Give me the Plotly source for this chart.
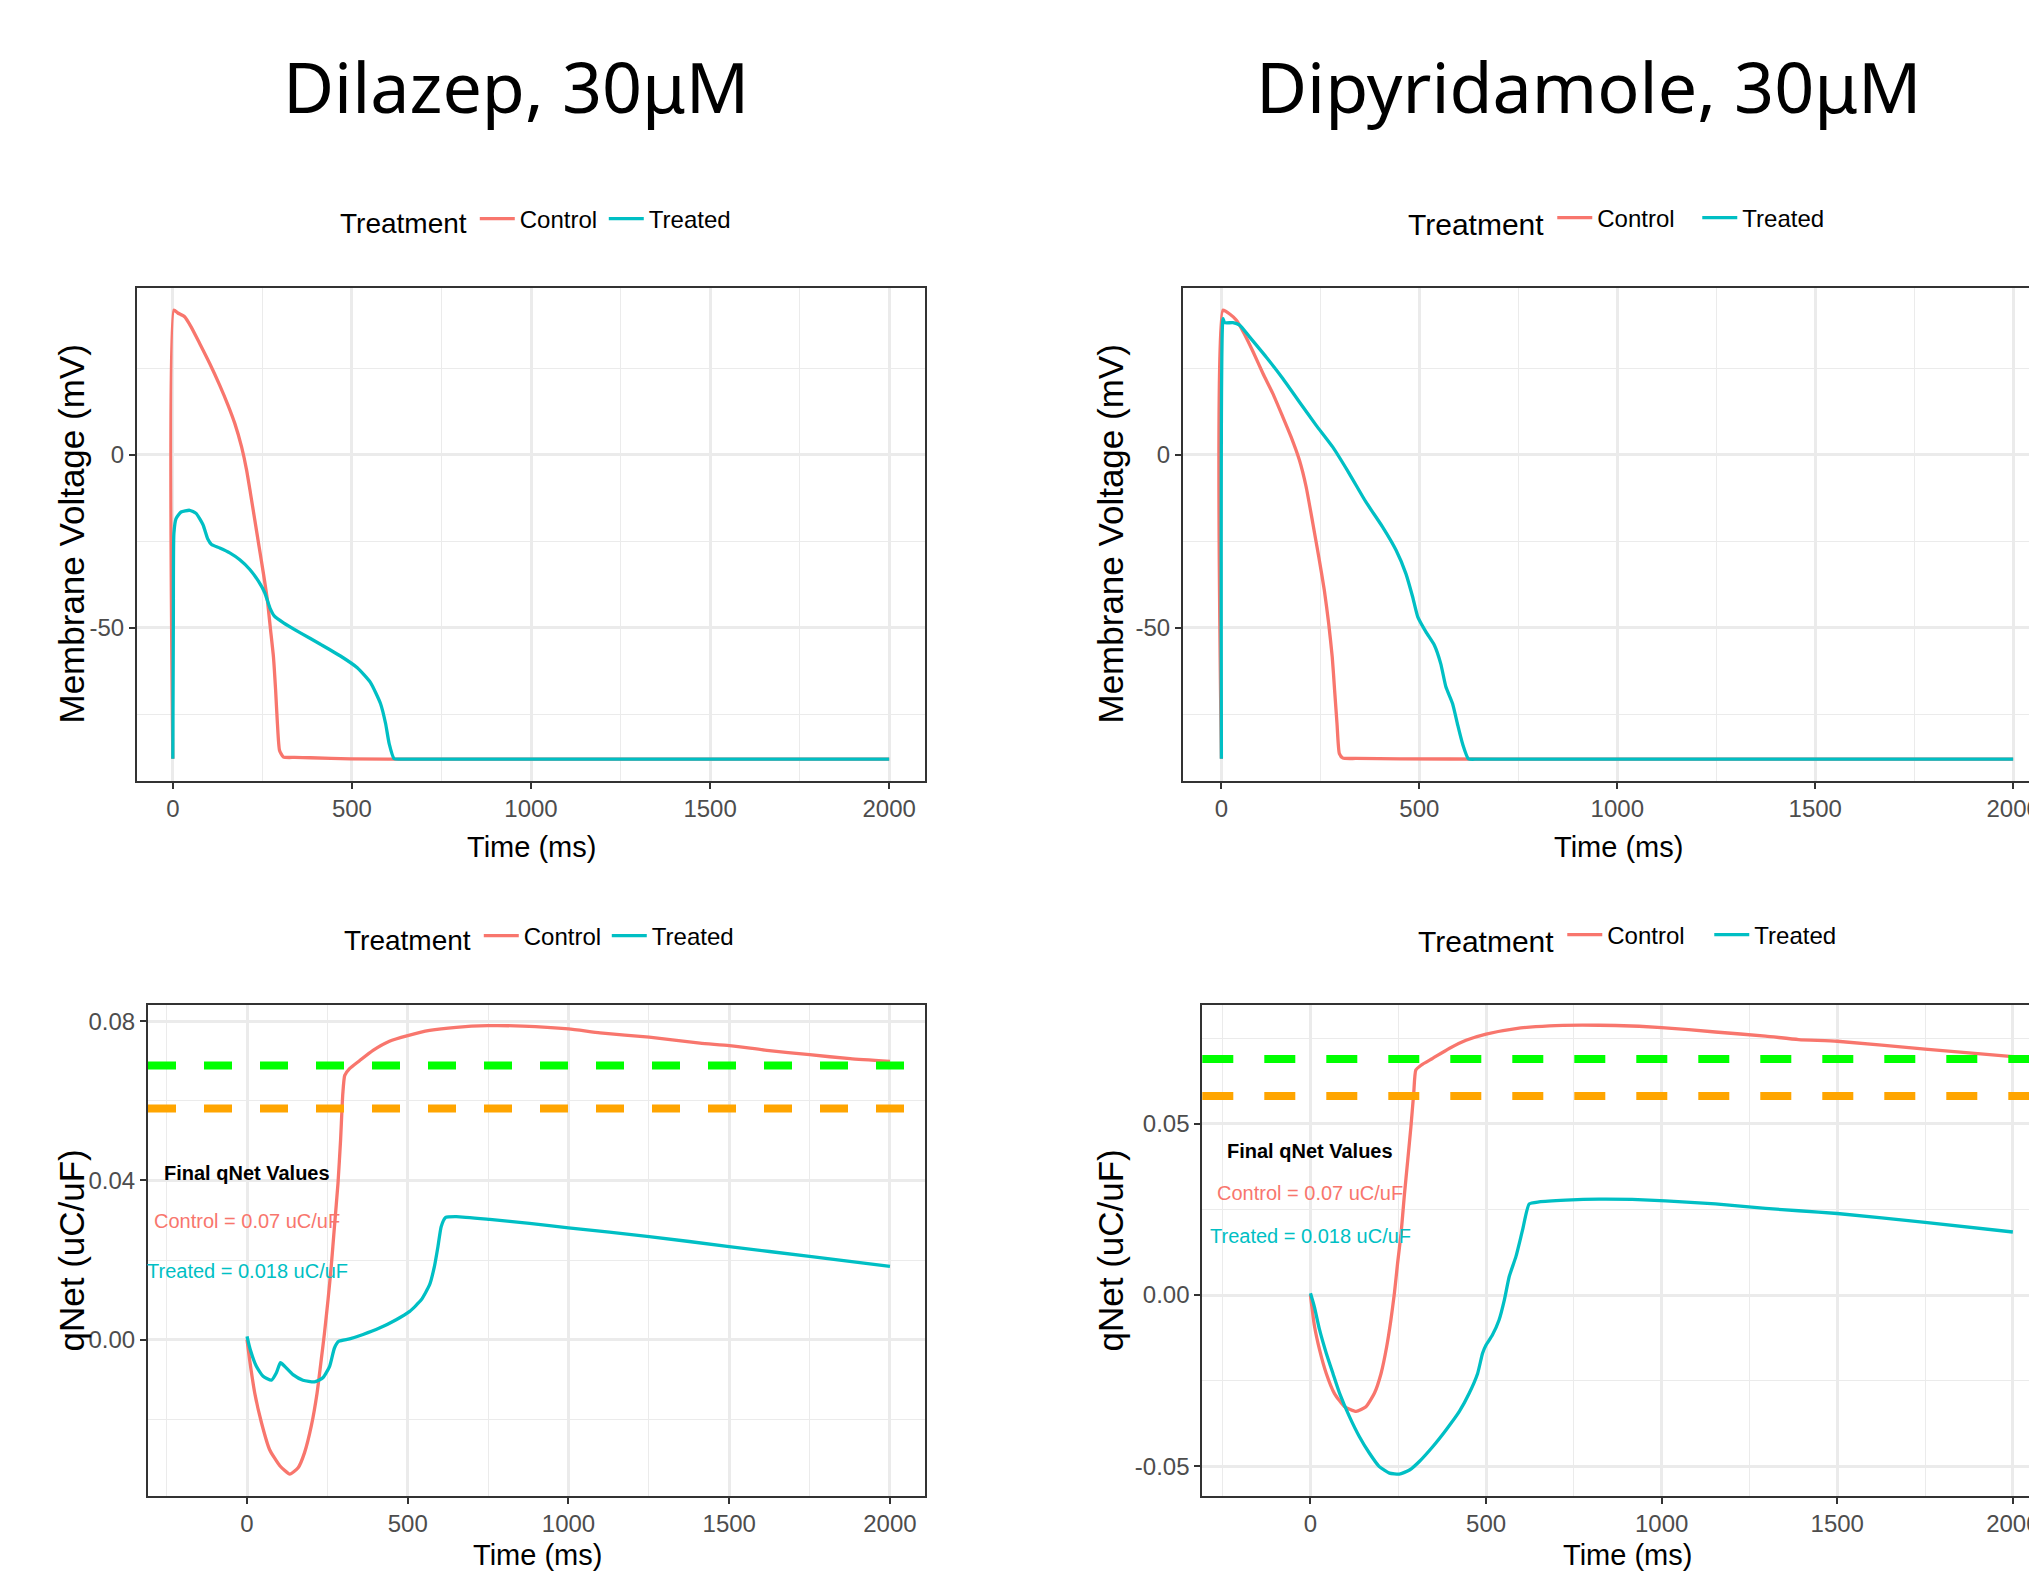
import plotly.graph_objects as go

W, H = 2029, 1573

# ---------------- data ----------------
# Dilazep, membrane voltage
t_dil_ctrl = [0, 3, 14, 33, 51, 75, 103, 131, 154, 173, 192, 206, 217, 229, 241, 253, 264, 273,
              281, 287, 292, 298, 309, 340, 384, 496, 700, 1000, 1500, 2000]
v_dil_ctrl = [-87.9, 41.7, 40.9, 39.8, 36.9, 32.1, 26.3, 20.0, 14.3, 9.0, 2.2, -4.5, -11.3, -19.0,
              -26.7, -34.4, -42.1, -50.8, -58.5, -68.1, -77.7, -85.5, -87.4, -87.5, -87.6, -87.9,
              -88.0, -88.0, -88.0, -88.0]
t_dil_trt = [0, 1.5, 3, 9, 23, 47, 65, 84, 98, 108, 131, 159, 187, 215, 239, 257, 271, 283, 309,
             356, 412, 468, 515, 552, 580, 594, 604, 618, 640, 700, 1000, 1500, 2000]
v_dil_trt = [-87.9, -47.0, -22.8, -18.5, -16.6, -16.1, -17.0, -20.2, -24.5, -26.0, -27.0, -28.4,
             -30.4, -33.2, -36.6, -40.0, -44.3, -46.6, -48.6, -51.5, -54.8, -58.2, -61.6, -65.9,
             -72.0, -77.7, -83.5, -87.9, -88.0, -88.0, -88.0, -88.0, -88.0]

# Dipyridamole, membrane voltage
t_dip_ctrl = [0, 4, 21, 38, 55, 80, 105, 130, 155, 176, 197, 214, 231, 246, 260, 271, 280, 286,
              292, 298, 307, 340, 450, 700, 1000, 1500, 2000]
v_dip_ctrl = [-87.9, 41.7, 40.6, 38.8, 35.5, 29.7, 23.4, 17.6, 10.9, 5.1, -1.6, -9.3, -19.9,
              -29.6, -39.2, -48.8, -58.5, -68.1, -77.7, -86.4, -87.7, -87.8, -87.9, -88.0, -88.0,
              -88.0, -88.0]
t_dip_trt = [0, 4, 8, 29, 46, 71, 113, 155, 197, 239, 281, 323, 365, 407, 441, 466, 483, 496,
             517, 538, 554, 567, 584, 596, 609, 624, 645, 700, 1000, 1500, 2000]
v_dip_trt = [-87.9, 39.3, 38.1, 38.1, 37.4, 34.0, 28.2, 22.0, 15.2, 8.5, 2.2, -5.5, -13.7, -20.9,
             -27.6, -34.4, -41.1, -46.9, -51.3, -55.1, -60.4, -67.1, -72.0, -77.7, -83.5, -87.9,
             -88.0, -88.0, -88.0, -88.0, -88.0]

# Dilazep, qNet
t_qd_ctrl = [0, 8, 24, 45, 70, 102, 133, 159, 179, 200, 218, 231, 241, 252, 262, 272, 283, 291,
             298, 304, 319, 350, 392, 443, 500, 568, 651, 749, 858, 1000, 1098, 1251, 1409, 1500,
             1617, 1750, 1876, 2000]
q_qd_ctrl = [0.0, -0.0050, -0.0134, -0.0209, -0.0276, -0.0317, -0.0338, -0.0322, -0.0284,
             -0.0217, -0.0134, -0.0050, 0.0017, 0.0100, 0.0184, 0.0284, 0.0393, 0.0501, 0.0618,
             0.0664, 0.0681, 0.0701, 0.0727, 0.0750, 0.0764, 0.0777, 0.0785, 0.0789, 0.0788,
             0.0781, 0.0771, 0.0760, 0.0745, 0.0739, 0.0727, 0.0716, 0.0706, 0.0699]
t_qd_trt = [0, 10, 29, 50, 76, 91, 104, 117, 143, 174, 210, 236, 257, 272, 286, 319, 361, 412,
            464, 506, 542, 568, 583, 594, 604, 618, 651, 755, 879, 1000, 1251, 1500, 1750, 2000]
q_qd_trt = [0.0008, -0.0025, -0.0067, -0.0092, -0.0102, -0.0084, -0.0058, -0.0067, -0.0088,
            -0.0102, -0.0106, -0.0096, -0.0067, -0.0021, -0.0004, 0.0002, 0.0013, 0.0029, 0.0050,
            0.0071, 0.0100, 0.0138, 0.0184, 0.0234, 0.0284, 0.0307, 0.0309, 0.0302, 0.0292,
            0.0281, 0.0259, 0.0234, 0.0209, 0.0184]

# Dipyridamole, qNet
t_qp_ctrl = [0, 11, 26, 45, 68, 97, 130, 158, 182, 201, 217, 229, 239, 248, 258, 267, 277, 286,
             294, 300, 315, 348, 395, 443, 500, 585, 680, 774, 869, 1000, 1153, 1296, 1390, 1500,
             1750, 2000]
q_qp_ctrl = [0.0, -0.0088, -0.0160, -0.0229, -0.0287, -0.0326, -0.0340, -0.0326, -0.0287,
             -0.0229, -0.0151, -0.0073, 0.0005, 0.0092, 0.0180, 0.0287, 0.0394, 0.0491, 0.0589,
             0.0657, 0.0671, 0.0691, 0.0720, 0.0744, 0.0762, 0.0778, 0.0786, 0.0788, 0.0787,
             0.0781, 0.0768, 0.0756, 0.0746, 0.0741, 0.0718, 0.0696]
t_qp_trt = [0, 11, 26, 45, 64, 83, 111, 139, 168, 196, 225, 253, 282, 310, 348, 386, 424, 452,
            476, 490, 500, 518, 537, 552, 566, 585, 604, 623, 651, 727, 822, 916, 1011, 1153,
            1296, 1390, 1500, 1750, 2000]
q_qp_trt = [0.0005, -0.0034, -0.0102, -0.0170, -0.0229, -0.0287, -0.0355, -0.0413, -0.0462,
            -0.0501, -0.0520, -0.0523, -0.0511, -0.0486, -0.0443, -0.0394, -0.0340, -0.0287,
            -0.0229, -0.0170, -0.0146, -0.0117, -0.0073, -0.0015, 0.0054, 0.0112, 0.0190,
            0.0266, 0.0272, 0.0277, 0.0280, 0.0279, 0.0275, 0.0266, 0.0253, 0.0246, 0.0238,
            0.0212, 0.0184]

qnet_thresholds = [0.0689, 0.0581]
threshold_colors = ["#00FF00", "#FFA500"]

drug_titles = ["Dilazep, 30\u03bcM", "Dipyridamole, 30\u03bcM"]
series_names = ["Control", "Treated"]
final_labels = ["Control = 0.07 uC/uF", "Treated = 0.018 uC/uF"]
final_label_y = [0.0297, 0.0172]

x_major = [0, 500, 1000, 1500, 2000]
x_minor = [-250, 250, 750, 1250, 1750]
v_major = [-50, 0]
v_major_text = ["-50", "0"]
v_minor = [-75, -25, 25]
qd_major = [0.0, 0.04, 0.08]
qd_major_text = ["0.00", "0.04", "0.08"]
qd_minor = [-0.02, 0.02, 0.06]
qp_major = [-0.05, 0.0, 0.05]
qp_major_text = ["-0.05", "0.00", "0.05"]
qp_minor = [-0.025, 0.025, 0.075]

# ---------------- styling ----------------
RED = "#F8766D"
TEAL = "#00BFC4"
SANS = "Liberation Sans, Arial, sans-serif"
TITLEF = "Noto Sans, Open Sans, sans-serif"
GRID = "#EBEBEB"
BORDER = "#333333"


def px_x(p):
    return p / W


def px_y(p):
    return 1 - p / H


def xaxis(domain, rng, anchor):
    return dict(domain=domain, range=rng, anchor=anchor, showline=True, linecolor=BORDER,
                linewidth=2, mirror=True, ticks="outside", ticklen=6, tickwidth=2,
                tickcolor=BORDER, tickvals=x_major, ticktext=[str(v) for v in x_major],
                showgrid=True, gridcolor=GRID, gridwidth=2.5, zeroline=False,
                automargin=False, ticklabelstandoff=-1, ticklabeloverflow="allow",
                tickfont=dict(family=SANS, size=24, color="#4D4D4D"),
                minor=dict(tickvals=x_minor, showgrid=True, gridcolor=GRID, gridwidth=1.3,
                           ticks=""),
                fixedrange=True)


def yaxis(domain, rng, anchor, vals, text, minor, mirror=True):
    return dict(domain=domain, range=rng, anchor=anchor, showline=True, linecolor=BORDER,
                linewidth=2, mirror=mirror, ticks="outside", ticklen=6, tickwidth=2,
                tickcolor=BORDER, tickvals=vals, ticktext=text, showgrid=True,
                gridcolor=GRID, gridwidth=2.5, zeroline=False, automargin=False,
                ticklabelstandoff=0, ticklabeloverflow="allow",
                tickfont=dict(family=SANS, size=24, color="#4D4D4D"),
                minor=dict(tickvals=minor, showgrid=True, gridcolor=GRID, gridwidth=1.3,
                           ticks=""),
                fixedrange=True)


fig = go.Figure()

panels = [
    ("x", "y", "legend", [(t_dil_ctrl, v_dil_ctrl), (t_dil_trt, v_dil_trt)]),
    ("x2", "y2", "legend2", [(t_dip_ctrl, v_dip_ctrl), (t_dip_trt, v_dip_trt)]),
    ("x3", "y3", "legend3", [(t_qd_ctrl, q_qd_ctrl), (t_qd_trt, q_qd_trt)]),
    ("x4", "y4", "legend4", [(t_qp_ctrl, q_qp_ctrl), (t_qp_trt, q_qp_trt)]),
]
for xr, yr, lg, series in panels:
    for (tt, yy), name, col in zip(series, series_names, [RED, TEAL]):
        fig.add_trace(go.Scatter(x=tt, y=yy, mode="lines", name=name, xaxis=xr, yaxis=yr,
                                 legend=lg, line=dict(color=col, width=3.3, shape="spline",
                                                      smoothing=0.5),
                                 hoverinfo="skip"))

top_dom = [px_y(781.3), px_y(288.4)]
bot_dom = [px_y(1496.4), px_y(1004.6)]

fig.update_layout(
    template="none",
    width=W, height=H, margin=dict(l=0, r=0, t=0, b=0, autoexpand=False),
    paper_bgcolor="white", plot_bgcolor="white", showlegend=True,
    xaxis=xaxis([px_x(137), px_x(925)], [-100, 2100], "y"),
    yaxis=yaxis(top_dom, [-94.4, 48.0], "x", v_major, v_major_text, v_minor),
    xaxis2=xaxis([px_x(1183), 1.0], [-97, 2040], "y2"),
    yaxis2=yaxis(top_dom, [-94.4, 48.0], "x2", v_major, v_major_text, v_minor, mirror=False),
    xaxis3=xaxis([px_x(148), px_x(925)], [-308, 2109], "y3"),
    yaxis3=yaxis(bot_dom, [-0.0394, 0.0842], "x3", qd_major, qd_major_text, qd_minor),
    xaxis4=xaxis([px_x(1202.3), 1.0], [-308, 2046], "y4"),
    yaxis4=yaxis(bot_dom, [-0.0588, 0.0848], "x4", qp_major, qp_major_text, qp_minor,
                 mirror=False),
)

# legend: (left px, centre y px, entry width px, title size)
legend_pos = {"legend": (338, 220, 79, 28), "legend2": (1406, 220, 95, 30),
              "legend3": (342, 937, 78, 28), "legend4": (1416, 937, 97, 30)}
for lg, (lx, ly, ew, ts) in legend_pos.items():
    fig.update_layout({lg: dict(
        orientation="h", x=px_x(lx), xanchor="left", y=px_y(ly), yanchor="middle",
        title=dict(text="Treatment", side="left",
                   font=dict(family=SANS, size=ts, color="black")),
        font=dict(family=SANS, size=24, color="black"),
        bgcolor="rgba(0,0,0,0)", itemwidth=35, entrywidth=ew, entrywidthmode="pixels",
        borderwidth=0)})

# threshold lines in qNet panels
dash_px = {"x3": "28px,28px", "x4": "31px,31px"}
for xr, yr in [("x3", "y3"), ("x4", "y4")]:
    for val, col in zip(qnet_thresholds, threshold_colors):
        fig.add_shape(type="line", xref=xr + " domain", yref=yr, x0=0, x1=1, y0=val, y1=val,
                      line=dict(color=col, width=8, dash=dash_px[xr]), layer="above")

ann = []
# drug titles
for txt, cx in zip(drug_titles, [516, 1589]):
    ann.append(dict(text=txt, x=px_x(cx), y=px_y(86), xref="paper", yref="paper",
                    xanchor="center", yanchor="middle", showarrow=False,
                    font=dict(family=TITLEF, size=70, color="black")))
# x axis titles
for cx, cy in [(531, 847), (1618, 847), (537, 1555), (1627, 1555)]:
    ann.append(dict(text="Time (ms)", x=px_x(cx), y=px_y(cy), xref="paper", yref="paper",
                    xanchor="center", yanchor="middle", showarrow=False,
                    font=dict(family=SANS, size=29, color="black")))
# y axis titles
for txt, cx, cy in [("Membrane Voltage (mV)", 71, 534.5), ("Membrane Voltage (mV)", 1110, 534.5),
                    ("qNet (uC/uF)", 71, 1250.5), ("qNet (uC/uF)", 1110, 1250.5)]:
    ann.append(dict(text=txt, x=px_x(cx), y=px_y(cy), xref="paper", yref="paper",
                    xanchor="center", yanchor="middle", showarrow=False, textangle=-90,
                    font=dict(family=SANS, size=35, color="black")))
# final qNet value labels
for xr, yr in [("x3", "y3"), ("x4", "y4")]:
    ann.append(dict(text="<b>Final qNet Values</b>", x=0, y=0.042, xref=xr, yref=yr,
                    xanchor="center", yanchor="middle", showarrow=False,
                    font=dict(family=SANS, size=20, color="black")))
    for txt, yv, col in zip(final_labels, final_label_y, [RED, TEAL]):
        ann.append(dict(text=txt, x=0, y=yv, xref=xr, yref=yr, xanchor="center",
                        yanchor="middle", showarrow=False,
                        font=dict(family=SANS, size=20, color=col)))
fig.update_layout(annotations=ann)

fig.write_html(
    "out.html",
    config={"displayModeBar": False, "staticPlot": False},
    post_script="document.body.style.margin='0px';"
                "document.documentElement.style.overflow='hidden';",
)
